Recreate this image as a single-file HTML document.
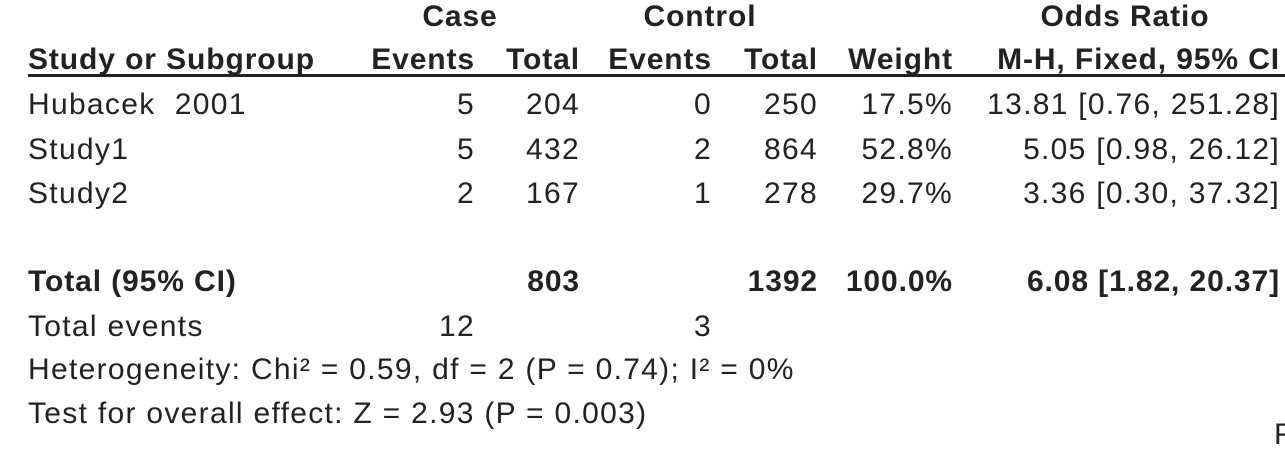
<!DOCTYPE html>
<html><head><meta charset="utf-8"><style>
body{margin:0;width:1285px;height:455px;background:#fff;overflow:hidden;position:relative;font-family:"Liberation Sans",Arial,sans-serif;color:#222;}
.t{position:absolute;font-size:30px;line-height:34px;white-space:nowrap;letter-spacing:1.3px}
.b{font-weight:bold;letter-spacing:0.9px}
.r{text-align:right}
.c{text-align:center}
</style></head><body>
<div>
<div class="t b c" style="left:400px;width:120px;top:0px">Case</div>
<div class="t b c" style="left:620px;width:160px;top:0px">Control</div>
<div class="t b c" style="left:1000px;width:250px;top:0px">Odds Ratio</div>

<div class="t b" style="left:28px;top:43px">Study or Subgroup</div>
<div class="t b r" style="right:810px;top:43px">Events</div>
<div class="t b r" style="right:705px;top:43px">Total</div>
<div class="t b r" style="right:573px;top:43px">Events</div>
<div class="t b r" style="right:467px;top:43px">Total</div>
<div class="t b r" style="right:332px;top:43px">Weight</div>
<div class="t b r" style="right:5px;top:43px">M-H, Fixed, 95% CI</div>
<div style="position:absolute;left:28px;right:0;top:74px;height:3px;background:#222"></div>

<div>
<div class="t" style="left:28px;top:88px">Hubacek&nbsp; 2001</div>
<div class="t r" style="right:810px;top:88px">5</div>
<div class="t r" style="right:705px;top:88px">204</div>
<div class="t r" style="right:573px;top:88px">0</div>
<div class="t r" style="right:467px;top:88px">250</div>
<div class="t r" style="right:332px;top:88px">17.5%</div>
<div class="t r" style="right:5px;top:88px">13.81 [0.76, 251.28]</div>
</div>
<div>
<div class="t" style="left:28px;top:133px">Study1</div>
<div class="t r" style="right:810px;top:133px">5</div>
<div class="t r" style="right:705px;top:133px">432</div>
<div class="t r" style="right:573px;top:133px">2</div>
<div class="t r" style="right:467px;top:133px">864</div>
<div class="t r" style="right:332px;top:133px">52.8%</div>
<div class="t r" style="right:5px;top:133px">5.05 [0.98, 26.12]</div>
</div>
<div>
<div class="t" style="left:28px;top:177px">Study2</div>
<div class="t r" style="right:810px;top:177px">2</div>
<div class="t r" style="right:705px;top:177px">167</div>
<div class="t r" style="right:573px;top:177px">1</div>
<div class="t r" style="right:467px;top:177px">278</div>
<div class="t r" style="right:332px;top:177px">29.7%</div>
<div class="t r" style="right:5px;top:177px">3.36 [0.30, 37.32]</div>
</div>
<div>
<div class="t b" style="left:28px;top:265px">Total (95% CI)</div>
<div class="t b r" style="right:705px;top:265px">803</div>
<div class="t b r" style="right:467px;top:265px">1392</div>
<div class="t b r" style="right:332px;top:265px">100.0%</div>
<div class="t b r" style="right:5px;top:265px">6.08 [1.82, 20.37]</div>
</div>
<div>
<div class="t" style="left:28px;top:310px">Total events</div>
<div class="t r" style="right:810px;top:310px">12</div>
<div class="t r" style="right:573px;top:310px">3</div>
</div>
<div class="t" style="left:28px;top:353px">Heterogeneity: Chi² = 0.59, df = 2 (P = 0.74); I² = 0%</div>
<div class="t" style="left:28px;top:397px">Test for overall effect: Z = 2.93 (P = 0.003)</div>
<div class="t" style="left:1274px;top:418px">F</div>
</div>
</body></html>
